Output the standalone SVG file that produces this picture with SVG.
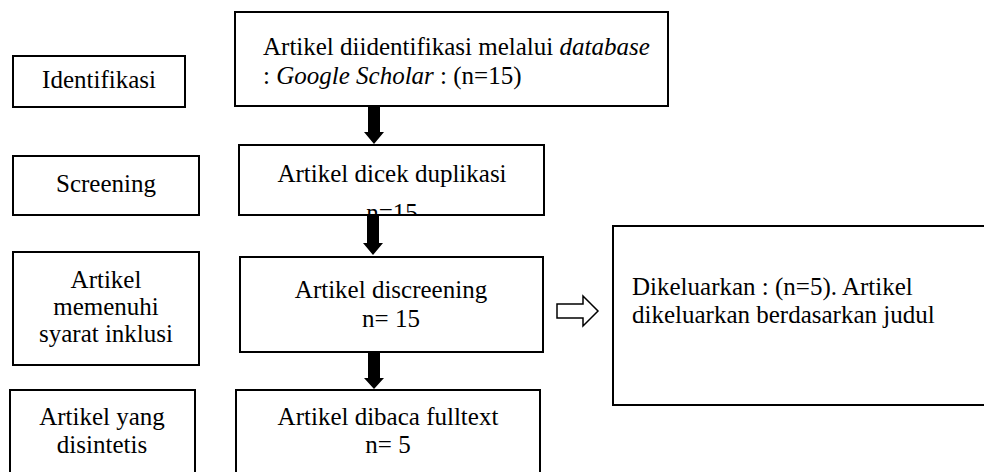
<svg xmlns="http://www.w3.org/2000/svg" width="984" height="472" viewBox="0 0 984 472">
<style>
.box{fill:#fff;stroke:#000;stroke-width:2}
.t{font-family:'Liberation Serif',Tinos,'Times New Roman','DejaVu Serif',serif;font-size:25px;fill:#000}
.c{text-anchor:middle}
.i{font-style:italic}
.arr{fill:#000;stroke:none}
.hol{fill:#fff;stroke:#000;stroke-width:1.5;stroke-linejoin:miter}
</style>
<defs>
<clipPath id="clip2"><rect x="239" y="145" width="305" height="69"/></clipPath>
</defs>
<rect width="984" height="472" fill="#fff"/>
<g id="identifikasi">
<rect class="box" x="13" y="56" width="172" height="51"/>
<text class="t c" x="99" y="88">Identifikasi</text>
</g>
<g id="screening">
<rect class="box" x="13" y="156" width="186" height="59"/>
<text class="t c" x="106" y="192">Screening</text>
</g>
<g id="memenuhi">
<rect class="box" x="13" y="252" width="186" height="113"/>
<text class="t c" x="106" y="288">Artikel</text>
<text class="t c" x="106" y="315">memenuhi</text>
<text class="t c" x="106" y="342">syarat inklusi</text>
</g>
<g id="disintetis">
<rect class="box" x="10" y="390" width="185" height="95"/>
<text class="t c" x="102" y="425">Artikel yang</text>
<text class="t c" x="102" y="453">disintetis</text>
</g>
<g id="box1">
<rect class="box" x="235" y="12" width="433" height="94"/>
<text class="t" x="263" y="55">Artikel diidentifikasi melalui <tspan class="i">database</tspan></text>
<text class="t" x="263" y="84">: <tspan class="i">Google Scholar</tspan> : (n=15)</text>
</g>
<g id="box2">
<rect class="box" x="239" y="145" width="305" height="70"/>
<text class="t c" x="392" y="182">Artikel dicek duplikasi</text>
<text class="t c" x="392" y="221" clip-path="url(#clip2)">n=15</text>
</g>
<g id="box3">
<rect class="box" x="240" y="257" width="303" height="95"/>
<text class="t c" x="391" y="298">Artikel discreening</text>
<text class="t c" x="391" y="327">n= 15</text>
</g>
<g id="box4">
<rect class="box" x="236" y="390" width="304" height="95"/>
<text class="t c" x="388" y="425">Artikel dibaca fulltext</text>
<text class="t c" x="388" y="453">n= 5</text>
</g>
<g id="excluded">
<rect class="box" x="613" y="226" width="380" height="179"/>
<text class="t" x="632" y="295">Dikeluarkan : (n=5). Artikel</text>
<text class="t" x="632" y="323">dikeluarkan berdasarkan judul</text>
</g>
<g id="connectors">
<polygon class="arr" points="368,107 380,107 380,132 384,132 374,144 364,132 368,132"/>
<polygon class="arr" points="367,216 379,216 379,243 383,243 373,255 363,243 367,243"/>
<polygon class="arr" points="368,353 380,353 380,378 384,378 374,389 364,378 368,378"/>
<polygon class="hol" points="557,304 583,304 583,296 598,311 583,326 583,318 557,318"/>
</g>
</svg>
